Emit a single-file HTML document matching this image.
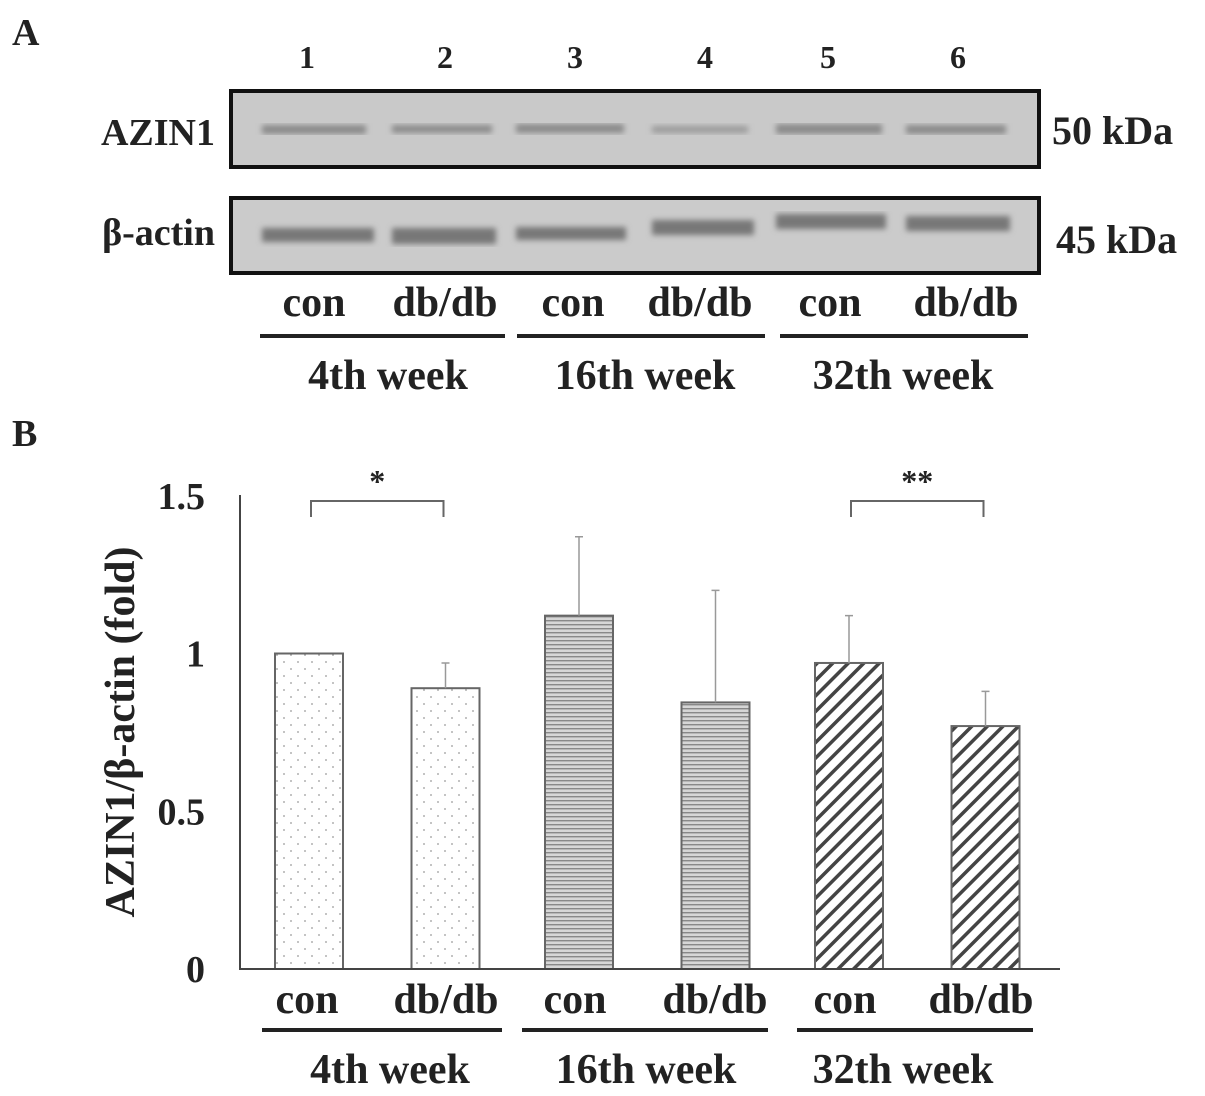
<!DOCTYPE html>
<html><head><meta charset="utf-8"><style>
body{margin:0;background:#fff}
svg{display:block}
text{font-family:"Liberation Serif",serif;font-weight:bold;fill:#222}
</style></head><body>
<svg id="fig" width="1205" height="1096" viewBox="0 0 1205 1096">
<defs>
<pattern id="dots" width="14" height="14" patternUnits="userSpaceOnUse"><rect width="14" height="14" fill="#fff"/><circle cx="4" cy="4" r="0.9" fill="#999"/><circle cx="11" cy="11" r="0.9" fill="#999"/></pattern>
<pattern id="hlines" width="10" height="4" patternUnits="userSpaceOnUse"><rect width="10" height="4" fill="#d6d6d6"/><rect y="0" width="10" height="1.4" fill="#888"/></pattern>
<pattern id="diag" width="11" height="11" patternUnits="userSpaceOnUse" patternTransform="rotate(45)"><rect width="11" height="11" fill="#fff"/><rect x="0" width="3.5" height="11" fill="#444"/></pattern>
<filter id="blur"><feGaussianBlur stdDeviation="3"/></filter>
</defs>

<text x="12" y="45" font-size="38">A</text>
<g font-size="32" text-anchor="middle">
<text x="307" y="68">1</text><text x="445" y="68">2</text><text x="575" y="68">3</text><text x="705" y="68">4</text><text x="828" y="68">5</text><text x="958" y="68">6</text>
</g>
<g>
<rect x="231" y="91" width="808" height="76" fill="#c9c9c9" stroke="#111" stroke-width="4"/>
<g filter="url(#blur)" fill="#8a8a8a">
<rect x="262" y="125" width="104" height="9"/><rect x="392" y="125" width="100" height="8"/><rect x="516" y="124" width="108" height="9"/><rect x="652" y="126" width="96" height="7" fill="#9a9a9a"/><rect x="776" y="124" width="106" height="10"/><rect x="906" y="125" width="100" height="9"/>
</g>
</g>
<g>
<rect x="231" y="198" width="808" height="75" fill="#cbcbcb" stroke="#111" stroke-width="4"/>
<g filter="url(#blur)" fill="#777">
<rect x="262" y="228" width="112" height="14"/><rect x="392" y="228" width="104" height="16"/><rect x="516" y="227" width="110" height="13"/><rect x="652" y="220" width="102" height="15"/><rect x="776" y="214" width="110" height="15"/><rect x="906" y="216" width="104" height="15"/>
</g>
</g>
<text x="215" y="145" font-size="38" text-anchor="end">AZIN1</text>
<text x="215" y="245" font-size="38" text-anchor="end" font-weight="normal">β-actin</text>
<text x="1052" y="144" font-size="40">50 kDa</text>
<text x="1056" y="253" font-size="40">45 kDa</text>
<g font-size="42" text-anchor="middle">
<text x="314" y="316">con</text><text x="445" y="316">db/db</text><text x="573" y="316">con</text><text x="700" y="316">db/db</text><text x="830" y="316">con</text><text x="966" y="316">db/db</text>
<rect x="260" y="334" width="245" height="4" fill="#222"/><rect x="517" y="334" width="248" height="4" fill="#222"/><rect x="780" y="334" width="248" height="4" fill="#222"/>
<text x="388" y="389">4th week</text><text x="645" y="389">16th week</text><text x="903" y="389">32th week</text>
</g>

<text x="12" y="446" font-size="38">B</text>
<g id="chart"></g>
<text transform="translate(134,732) rotate(-90)" font-size="42" text-anchor="middle">AZIN1/β-actin (fold)</text>
<g font-size="42" text-anchor="middle">
<text x="307" y="1013">con</text><text x="446" y="1013">db/db</text><text x="575" y="1013">con</text><text x="715" y="1013">db/db</text><text x="845" y="1013">con</text><text x="981" y="1013">db/db</text>
<rect x="262" y="1028" width="240" height="4" fill="#222"/><rect x="522" y="1028" width="246" height="4" fill="#222"/><rect x="797" y="1028" width="236" height="4" fill="#222"/>
<text x="390" y="1083">4th week</text><text x="646" y="1083">16th week</text><text x="903" y="1083">32th week</text>
</g>
</svg>
<script>
const categories=["4w con","4w db/db","16w con","16w db/db","32w con","32w db/db"];
const values=[1.0,0.89,1.12,0.845,0.97,0.77];
const errors=[0,0.08,0.25,0.355,0.15,0.11];
const fills=["dots","dots","hlines","hlines","diag","diag"];
const yTicks=[0,0.5,1,1.5];
const yTickLabels=["0","0.5","1","1.5"];
const sigPairs=[[0,1,"*"],[4,5,"**"]];
const NS="http://www.w3.org/2000/svg";
const g=document.getElementById('chart');
const y=v=>969-v*315.5;
const x0=275, step=136.5, bw=68;
const x=i=>x0+i*step-(i>=2?3:0)+(i>=4?-3:0);
function mk(t,a,p){const e=document.createElementNS(NS,t);for(const k in a)e.setAttribute(k,a[k]);(p||g).appendChild(e);return e;}
yTicks.forEach((t,i)=>{
 const e=mk('text',{x:205,y:y(t)+13,'font-size':38,'text-anchor':'end'});
 e.textContent=yTickLabels[i];
 
 
});
values.forEach((v,i)=>{
 const bx=x(i);
 const r=mk('rect',{x:bx,y:y(v),width:bw,height:y(0)-y(v),fill:'url(#'+fills[i]+')',stroke:'#666','stroke-width':2});
 
 
 if(errors[i]>0){
  const l=mk('path',{d:`M${bx+bw/2},${y(v)}V${y(v+errors[i])}M${bx+bw/2-4},${y(v+errors[i])}H${bx+bw/2+4}`,stroke:'#999','stroke-width':1.5,fill:'none'});
  
  
 }
});
const ax=mk('path',{d:`M240,495V969H1060`,stroke:'#444','stroke-width':2,fill:'none'});


sigPairs.forEach(p=>{
 const a=x(p[0])+bw/2+2,b=x(p[1])+bw/2-2;
 const br=mk('path',{d:`M${a},517V501H${b}V517`,stroke:'#666','stroke-width':2,fill:'none'});
 
 
 const s=mk('text',{x:(a+b)/2,y:492,'font-size':32,'text-anchor':'middle','font-weight':'normal',fill:'#555'});
 s.textContent=p[2];
 
 
});
</script>
</body></html>
